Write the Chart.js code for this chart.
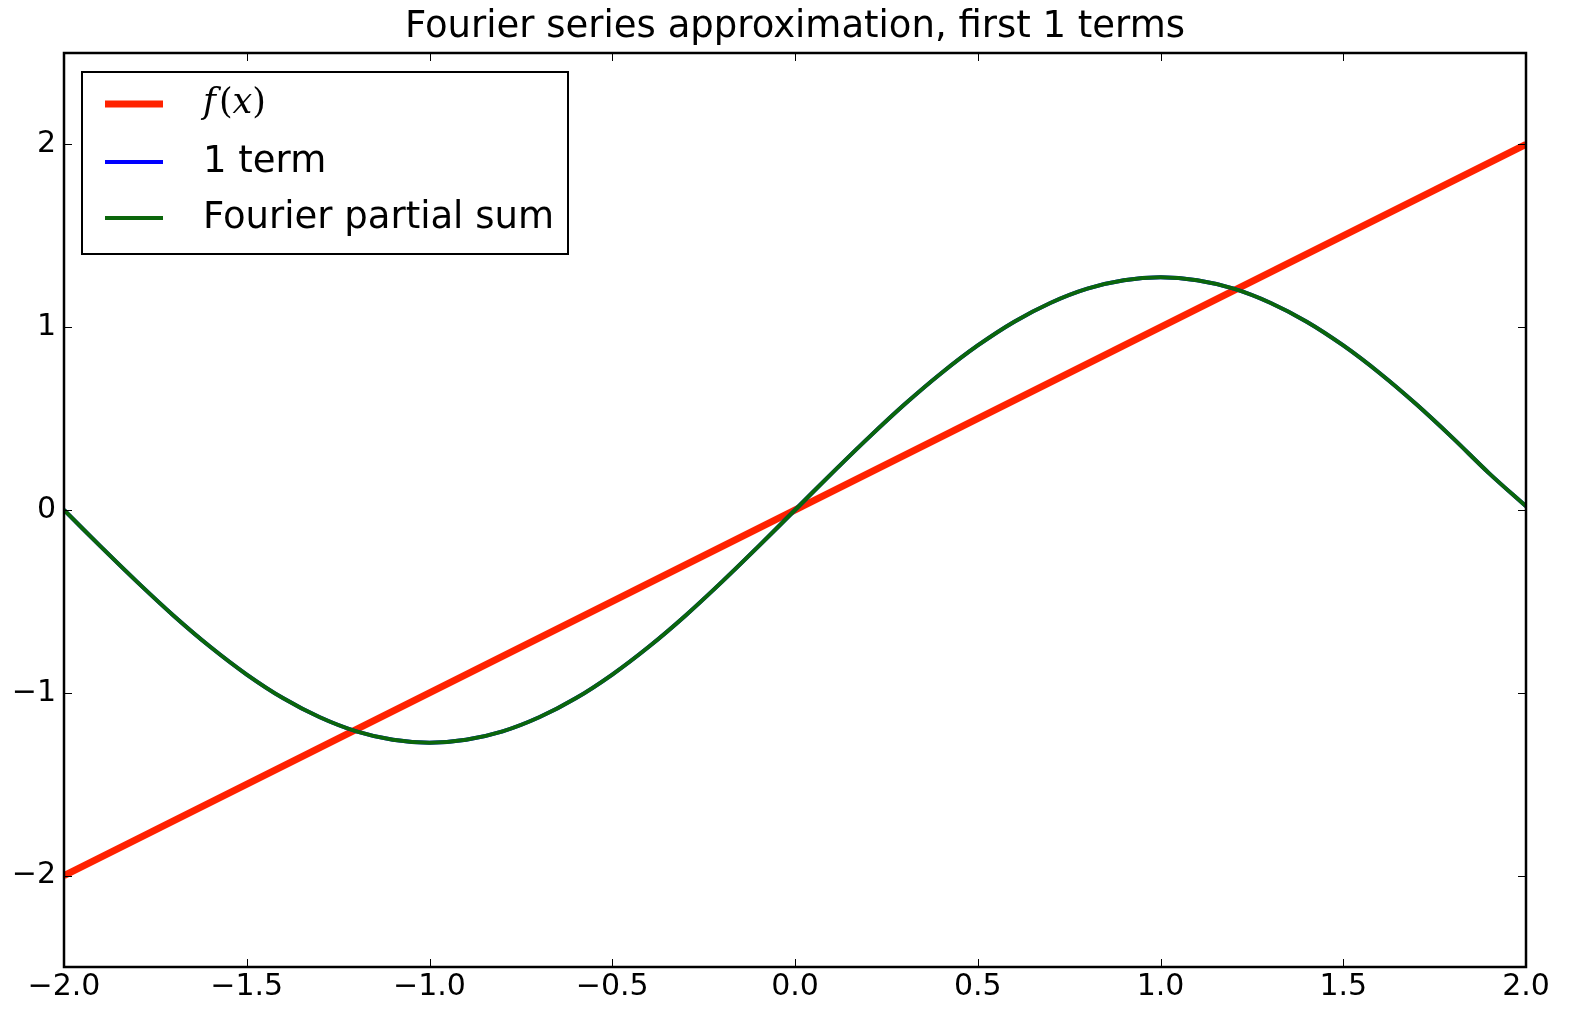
<!DOCTYPE html>
<html>
<head>
  <title>Fourier series approximation</title>
  <script src="https://cdn.jsdelivr.net/npm/chart.js"></script>
  <style>
    html, body {
      margin: 0;
      padding: 0;
      background: #ffffff;
    }
    #wrap {
      width: 1593px;
      height: 1024px;
    }
  </style>
</head>
<body>
  <div id="wrap"><canvas id="graphique"></canvas></div>

  <script>
    // Données
    const titre = "Fourier series approximation, first 1 terms";
    const xTicks = [-2.0, -1.5, -1.0, -0.5, 0.0, 0.5, 1.0, 1.5, 2.0];
    const yTicks = [-2, -1, 0, 1, 2];

    // f(x) : droite rouge
    const fxX = [-2.0, 2.0];
    const fxY = [-2.0, 2.0];

    // abscisses des points relevés pour la somme partielle
    const xs = [-2.0, -1.9, -1.8, -1.7, -1.6, -1.5, -1.4, -1.3, -1.2, -1.1, -1.0,
                -0.9, -0.8, -0.7, -0.6, -0.5, -0.4, -0.3, -0.2, -0.1, 0.0,
                0.1, 0.2, 0.3, 0.4, 0.5, 0.6, 0.7, 0.8, 0.9, 1.0,
                1.1, 1.2, 1.3, 1.4, 1.5, 1.6, 1.7, 1.8, 1.9, 2.0];
    // 1 term (bleu, caché sous la courbe verte)
    const term1 = [0.000, -0.199, -0.393, -0.578, -0.748, -0.900, -1.030, -1.134, -1.211, -1.257, -1.273,
                   -1.257, -1.211, -1.134, -1.030, -0.900, -0.748, -0.578, -0.393, -0.199, 0.000,
                   0.199, 0.393, 0.578, 0.748, 0.900, 1.030, 1.134, 1.211, 1.257, 1.273,
                   1.257, 1.211, 1.134, 1.030, 0.900, 0.748, 0.578, 0.393, 0.199, 0.020];
    // Fourier partial sum (vert)
    const partialSum = [0.000, -0.199, -0.393, -0.578, -0.748, -0.900, -1.030, -1.134, -1.211, -1.257, -1.273,
                        -1.257, -1.211, -1.134, -1.030, -0.900, -0.748, -0.578, -0.393, -0.199, 0.000,
                        0.199, 0.393, 0.578, 0.748, 0.900, 1.030, 1.134, 1.211, 1.257, 1.273,
                        1.257, 1.211, 1.134, 1.030, 0.900, 0.748, 0.578, 0.393, 0.199, 0.020];

    const police = "'DejaVu Sans', sans-serif";
    const toPoints = (a, b) => a.map((v, i) => ({ x: v, y: b[i] }));
    const moins = v => String(v).replace("-", "\u2212");

    // titre, cadre, graduations internes et légende dessinés à la main
    const decor = {
      id: "decor",
      afterDraw(chart) {
        const ctx = chart.ctx;
        const a = chart.chartArea;
        const sx = chart.scales.x, sy = chart.scales.y;
        ctx.save();

        // titre
        ctx.fillStyle = "#000";
        ctx.font = "37px " + police;
        ctx.textAlign = "center";
        ctx.textBaseline = "middle";
        ctx.fillText(titre, (a.left + a.right) / 2, 27);

        // graduations vers l'intérieur
        ctx.strokeStyle = "#000";
        ctx.lineWidth = 1;
        const t = 8;
        ctx.beginPath();
        xTicks.forEach(v => {
          const px = Math.round(sx.getPixelForValue(v)) + 0.5;
          ctx.moveTo(px, a.bottom); ctx.lineTo(px, a.bottom - t);
          ctx.moveTo(px, a.top); ctx.lineTo(px, a.top + t);
        });
        yTicks.forEach(v => {
          const py = Math.round(sy.getPixelForValue(v)) + 0.5;
          ctx.moveTo(a.left, py); ctx.lineTo(a.left + t, py);
          ctx.moveTo(a.right, py); ctx.lineTo(a.right - t, py);
        });
        ctx.stroke();

        // cadre
        ctx.lineWidth = 2.5;
        ctx.strokeRect(a.left, a.top, a.right - a.left, a.bottom - a.top);

        // légende
        const lx = 82, ly = 72, lw = 486, lh = 182;
        ctx.fillStyle = "#fff";
        ctx.fillRect(lx, ly, lw, lh);
        ctx.lineWidth = 2;
        ctx.strokeStyle = "#000";
        ctx.strokeRect(lx, ly, lw, lh);
        const rows = [104, 162, 218];
        chart.data.datasets.forEach((ds, i) => {
          const y = rows[i];
          ctx.strokeStyle = ds.borderColor;
          ctx.lineWidth = ds.borderWidth;
          ctx.beginPath();
          ctx.moveTo(105, y); ctx.lineTo(163, y);
          ctx.stroke();
          ctx.fillStyle = "#000";
          ctx.textAlign = "left";
          ctx.textBaseline = "middle";
          if (i === 0) {
            // f(x) en style mathématique
            let x = 203;
            ctx.font = "italic 35px 'DejaVu Serif', serif";
            ctx.fillText("f", x, y); x += ctx.measureText("f").width + 3;
            ctx.font = "35px 'DejaVu Serif', serif";
            ctx.fillText("(", x, y); x += ctx.measureText("(").width;
            ctx.font = "italic 35px 'DejaVu Serif', serif";
            ctx.fillText("x", x, y); x += ctx.measureText("x").width;
            ctx.font = "35px 'DejaVu Serif', serif";
            ctx.fillText(")", x, y);
          } else {
            ctx.font = "37px " + police;
            ctx.fillText(ds.label, 203, y);
          }
        });
        ctx.restore();
      }
    };

    const graphique = document.getElementById("graphique").getContext("2d");
    new Chart(graphique, {
      type: "line",
      data: {
        datasets: [
          {
            label: "f(x)",
            data: toPoints(fxX, fxY),
            borderColor: "#ff2200",
            borderWidth: 7,
            pointRadius: 0,
            order: 2
          },
          {
            label: "1 term",
            data: toPoints(xs, term1),
            borderColor: "#0000ff",
            borderWidth: 4,
            pointRadius: 0,
            tension: 0.3,
            order: 1
          },
          {
            label: "Fourier partial sum",
            data: toPoints(xs, partialSum),
            borderColor: "#0b660b",
            borderWidth: 4,
            pointRadius: 0,
            tension: 0.3,
            order: 0
          }
        ]
      },
      options: {
        responsive: true,
        maintainAspectRatio: false,
        animation: false,
        layout: {
          padding: { top: 53, right: 67, left: 0, bottom: 0 }
        },
        plugins: {
          legend: { display: false },
          tooltip: { enabled: false }
        },
        scales: {
          x: {
            type: "linear",
            min: -2,
            max: 2,
            afterBuildTicks: s => { s.ticks = xTicks.map(v => ({ value: v })); },
            afterFit: s => { s.height = 57; },
            grid: { display: false, drawTicks: false },
            border: { display: false },
            ticks: {
              color: "#000",
              font: { family: police, size: 30 },
              padding: 2,
              maxRotation: 0,
              callback: v => moins(v.toFixed(1))
            }
          },
          y: {
            type: "linear",
            min: -2.5,
            max: 2.5,
            afterBuildTicks: s => { s.ticks = yTicks.map(v => ({ value: v })); },
            afterFit: s => { s.width = 64; },
            grid: { display: false, drawTicks: false },
            border: { display: false },
            ticks: {
              color: "#000",
              font: { family: police, size: 30 },
              padding: 8,
              callback: v => moins(v)
            }
          }
        }
      },
      plugins: [decor]
    });
  </script>
</body>
</html>
